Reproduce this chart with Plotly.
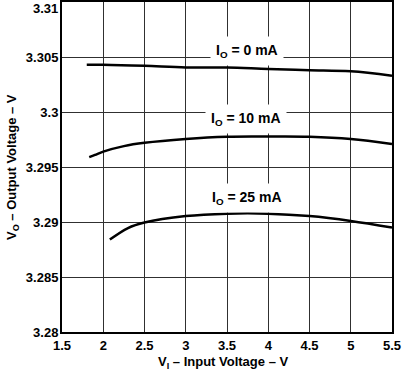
import plotly.graph_objects as go

# Data
x_0mA = [1.8, 2.0, 2.5, 3.0, 3.5, 4.0, 4.5, 5.0, 5.5]
y_0mA = [3.3043, 3.3043, 3.3042, 3.30405, 3.30405, 3.3039, 3.3038, 3.3037, 3.3033]

x_10mA = [1.83, 1.9, 2.0, 2.25, 2.5, 3.0, 3.5, 4.0, 4.5, 5.0, 5.5]
y_10mA = [3.2959, 3.2961, 3.2964, 3.2969, 3.2972, 3.29755, 3.29775, 3.29777, 3.29775, 3.29755, 3.2971]

x_25mA = [2.08, 2.3, 2.5, 3.0, 3.5, 4.0, 4.5, 5.0, 5.5]
y_25mA = [3.2884, 3.28945, 3.28995, 3.29054, 3.29076, 3.29076, 3.29054, 3.2901, 3.2895]

labels = ["I<sub>O</sub> = 0 mA", "I<sub>O</sub> = 10 mA", "I<sub>O</sub> = 25 mA"]
label_x = [3.74, 3.73, 3.74]
label_y = [3.30556, 3.2994, 3.29215]

x_ticks = [1.5, 2, 2.5, 3, 3.5, 4, 4.5, 5, 5.5]
x_ticktext = ["1.5", "2", "2.5", "3", "3.5", "4", "4.5", "5", "5.5"]
y_ticks = [3.28, 3.285, 3.29, 3.295, 3.3, 3.305, 3.31]
y_ticktext = ["3.28", "3.285", "3.29", "3.295", "3.3", "3.305", "3.31"]

x_title = "V<sub>I</sub> – Input Voltage – V"
y_title = "V<sub>O</sub> – Output Voltage – V"

font_family = "Liberation Sans, Arial, sans-serif"

fig = go.Figure()
for xs, ys in [(x_0mA, y_0mA), (x_10mA, y_10mA), (x_25mA, y_25mA)]:
    fig.add_trace(go.Scatter(x=xs, y=ys, mode="lines",
                             line=dict(color="black", width=2.5, shape="spline", smoothing=1.0),
                             showlegend=False, hoverinfo="skip"))

for t, lx, ly in zip(labels, label_x, label_y):
    fig.add_annotation(x=lx, y=ly, xref="x", yref="y", text="<b>" + t + "</b>",
                       showarrow=False, bgcolor="white", borderpad=5,
                       font=dict(family=font_family, size=14, color="black"))

# top y tick label sits just below the frame in the reference
ytext_shown = ["<b>%s</b>" % s for s in y_ticktext]
ytext_shown[-1] = ""
fig.add_annotation(x=0, y=1, xref="paper", yref="paper", xanchor="right", yanchor="top",
                   xshift=-2, yshift=3, text="<b>" + y_ticktext[-1] + "</b>", showarrow=False,
                   font=dict(family=font_family, size=13, color="black"))

# axis titles
fig.add_annotation(x=0.5, y=0, xref="paper", yref="paper", xanchor="center", yanchor="top",
                   xshift=-4, yshift=-20, text="<b>" + x_title + "</b>", showarrow=False,
                   font=dict(family=font_family, size=13, color="black"))
fig.add_annotation(x=0, y=0.5, xref="paper", yref="paper", xanchor="center", yanchor="middle",
                   xshift=-50, textangle=-90, text="<b>" + y_title + "</b>", showarrow=False,
                   font=dict(family=font_family, size=13, color="black"))

fig.update_layout(
    width=406, height=371,
    margin=dict(l=62, r=14, t=2, b=39, autoexpand=False),
    paper_bgcolor="white", plot_bgcolor="white",
    font=dict(family=font_family, size=13, color="black"),
    xaxis=dict(range=[1.5, 5.5], tickvals=x_ticks, ticktext=["<b>%s</b>" % s for s in x_ticktext],
               showgrid=True, gridcolor="#303030", gridwidth=1,
               showline=True, linecolor="black", linewidth=2, mirror=True,
               ticks="", ticklen=0, zeroline=False, automargin=False),
    yaxis=dict(range=[3.28, 3.31], tickvals=y_ticks, ticktext=ytext_shown,
               showgrid=True, gridcolor="#303030", gridwidth=1,
               showline=True, linecolor="black", linewidth=2, mirror=True,
               ticks="", ticklen=0, zeroline=False, automargin=False,
               ticklabelstandoff=-1),
)

fig.write_html("out.html", post_script="document.body.style.margin='0';",
               config={"displayModeBar": False})
